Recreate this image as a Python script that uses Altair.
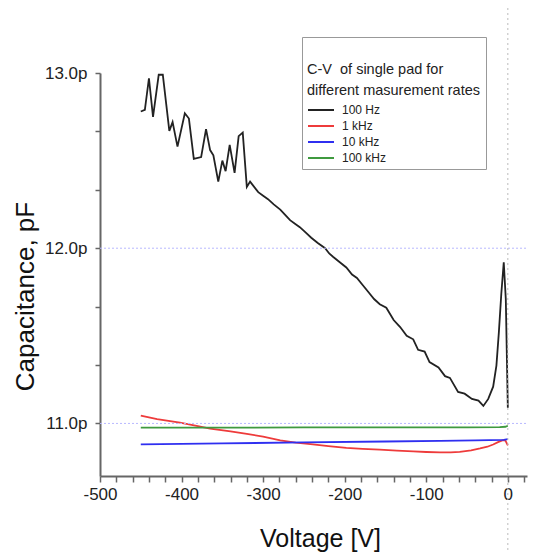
import altair as alt
import pandas as pd

# ---- data ----
series_names = ["100 Hz", "1 kHz", "10 kHz", "100 kHz"]
series_colors = ["#222222", "#ee3b3b", "#2f2ff0", "#3f9a3f"]

v_100hz = [-450, -445, -440, -435, -428, -423, -415, -411, -405, -396, -391, -385,
           -376, -370, -365, -361, -355, -350, -346, -341, -335, -330, -325, -320,
           -316, -306, -300, -294, -287, -279, -273, -267, -261, -255, -248, -241,
           -233, -224, -219, -214, -206, -198, -191, -185, -178, -171, -164, -157,
           -149, -140, -132, -124, -116, -110, -102, -96, -85, -77, -71, -61, -53,
           -44, -36, -30, -24, -18, -14, -11, -8, -5, -2.5, 0]
c_100hz = [12.78, 12.79, 12.97, 12.75, 12.99, 12.99, 12.67, 12.72, 12.58, 12.77, 12.74, 12.51,
           12.52, 12.68, 12.56, 12.53, 12.38, 12.50, 12.44, 12.59, 12.43, 12.64, 12.66, 12.35,
           12.38, 12.32, 12.30, 12.28, 12.25, 12.22, 12.19, 12.16, 12.14, 12.12, 12.09, 12.06,
           12.03, 12.00, 11.97, 11.95, 11.92, 11.89, 11.85, 11.83, 11.79, 11.75, 11.71, 11.68,
           11.66, 11.59, 11.55, 11.50, 11.48, 11.42, 11.41, 11.35, 11.32, 11.27, 11.26, 11.18, 11.17,
           11.14, 11.13, 11.10, 11.14, 11.21, 11.33, 11.52, 11.74, 11.92, 11.71, 11.09]

v_1khz = [-450, -430, -402, -380, -365, -340, -320, -300, -279, -260, -239, -220, -198,
          -178, -157, -136, -116, -100, -83, -70, -59, -45, -34, -25, -18, -12, -6, -3, 0]
c_1khz = [11.045, 11.025, 11.004, 10.985, 10.970, 10.955, 10.940, 10.925, 10.903, 10.890,
          10.880, 10.870, 10.860, 10.855, 10.850, 10.845, 10.840, 10.837, 10.835, 10.835,
          10.838, 10.846, 10.857, 10.867, 10.880, 10.893, 10.905, 10.902, 10.875]

v_10khz = [-450, -350, -250, -150, -83, -40, -5, 0]
c_10khz = [10.880, 10.886, 10.892, 10.897, 10.900, 10.903, 10.906, 10.910]

v_100khz = [-450, -350, -250, -150, -50, -10, -3, 0]
c_100khz = [10.976, 10.976, 10.977, 10.977, 10.978, 10.979, 10.981, 10.987]

grid_values = [11.0, 12.0]
x_ticks = list(range(-500, 21, 20))
y_ticks = [11.0, 11.0 + 1 / 3, 11.0 + 2 / 3, 12.0, 12.0 + 1 / 3, 12.0 + 2 / 3, 13.0]

rows = []
for name, vs, cs in [("100 Hz", v_100hz, c_100hz), ("1 kHz", v_1khz, c_1khz),
                     ("10 kHz", v_10khz, c_10khz), ("100 kHz", v_100khz, c_100khz)]:
    for i, (v, c) in enumerate(zip(vs, cs)):
        rows.append({"series": name, "V": v, "C": c, "i": i})
df = pd.DataFrame(rows)

W, H = 427, 403
FONT = "Liberation Sans"

x_scale = alt.Scale(domain=[-500, 23.5], nice=False, zero=False)
y_scale = alt.Scale(domain=[10.7, 13.0], nice=False, zero=False)

is_int_y = "abs(datum.value - round(datum.value)) < 0.01"

x_axis = alt.Axis(
    values=x_ticks,
    labelExpr="abs(datum.value % 100) < 0.01 ? '' + datum.value : ''",
    tickSize=6,
    labelPadding=4, labelFontSize=17, labelFont=FONT, labelColor="#222",
    title="Voltage [V]", titleFont=FONT, titleFontSize=25, titleFontWeight="normal",
    titleColor="#111", titleBaseline="top", titleY=50, titleX=220,
    domainColor="#666", domainWidth=2, tickColor="#666", tickWidth=1.5, grid=False,
    labelFlush=False, labelOverlap=False, labelBound=False,
)
y_axis = alt.Axis(
    values=y_ticks,
    labelExpr=f"{is_int_y} ? format(datum.value, '.1f') + 'p' : ''",
    tickSize=5,
    labelPadding=8, labelFontSize=17, labelFont=FONT, labelColor="#222",
    title="Capacitance, pF", titleFont=FONT, titleFontSize=26, titleFontWeight="normal",
    titleColor="#111", titleAngle=270, titleBaseline="bottom", titleAlign="center",
    titleX=-62, titleY=223,
    domainColor="#666", domainWidth=2, tickColor="#666", tickWidth=1.5, grid=False,
    labelFlush=False, labelOverlap=False, labelBound=False,
)

lines = alt.Chart(df).mark_line(strokeWidth=1.8, clip=False).encode(
    x=alt.X("V:Q", scale=x_scale, axis=x_axis),
    y=alt.Y("C:Q", scale=y_scale, axis=y_axis),
    color=alt.Color(
        "series:N",
        scale=alt.Scale(domain=series_names, range=series_colors),
        sort=series_names,
        legend=alt.Legend(
            title=["", "C-V\u00a0 of single pad for", "different masurement rates"],
            orient="none", legendX=202, legendY=-36,
            strokeColor="#999", fillColor="white", padding=5,
            symbolType="M-1,0H3", symbolSize=169, symbolStrokeWidth=2,
            labelFontSize=12, labelFont=FONT, labelColor="#222", labelOffset=20,
            titleFontSize=14.5, titleFont=FONT, titleFontWeight="normal", titleColor="#222",
            titleLineHeight=21, titleLimit=400, titlePadding=4, rowPadding=2,
        ),
    ),
    order="i:Q",
)

grid_df = pd.DataFrame({"C": grid_values})
hgrid = alt.Chart(grid_df).mark_rule(color="#b8b8ff", strokeDash=[2, 2], strokeWidth=1).encode(
    y=alt.Y("C:Q", scale=y_scale, axis=y_axis),
    x=alt.value(0), x2=alt.value(W + 12),
)

vline_df = pd.DataFrame({"V": [0]})
vline = alt.Chart(vline_df).mark_rule(color="#bbbbbb", strokeDash=[2, 3], strokeWidth=1).encode(
    x=alt.X("V:Q", scale=x_scale, axis=x_axis),
    y=alt.value(-65), y2=alt.value(H + 84),
)

chart = alt.layer(lines, hgrid, vline).properties(
    width=W, height=H,
    autosize=alt.AutoSizeParams(type="none"),
    padding={"left": 92, "top": 65, "right": 1, "bottom": 80},
).configure_view(stroke=None)

chart.save("out.html", embed_options={"renderer": "svg", "actions": False})
